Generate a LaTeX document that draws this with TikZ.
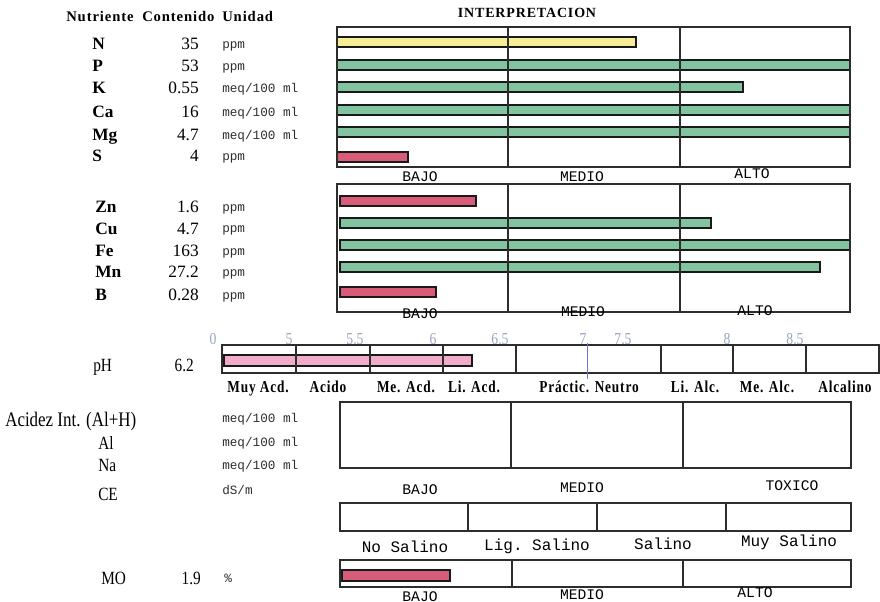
\documentclass[tikz,border=0pt]{standalone}
\usepackage{fontspec}
\setmainfont{Liberation Serif}
\setmonofont{Liberation Mono}
\newfontfamily\condfont[FakeStretch=0.82]{Liberation Serif}
\newfontfamily\phfont[FakeStretch=0.8, LetterSpace=5]{Liberation Serif}
\newfontfamily\spacedfont[LetterSpace=6]{Liberation Serif}

\definecolor{baryellow}{RGB}{245,238,150}
\definecolor{bargreen}{RGB}{130,196,160}
\definecolor{barred}{RGB}{214,92,120}
\definecolor{barpink}{RGB}{240,172,200}
\definecolor{scalegray}{RGB}{150,165,192}
\definecolor{inkgray}{RGB}{45,45,45}

\tikzset{
  nutr/.style={anchor=base west, inner sep=0pt, font=\fontsize{13}{14}\selectfont\bfseries},
  head/.style={anchor=base west, inner sep=0pt, font=\spacedfont\fontsize{11}{12}\selectfont\bfseries},
  val/.style={anchor=base east, inner sep=0pt, font=\fontsize{13}{14}\selectfont},
  cond/.style={anchor=base west, inner sep=0pt, font=\condfont\fontsize{14}{15}\selectfont},
  unit/.style={anchor=base west, inner sep=0pt, text=inkgray, font=\ttfamily\fontsize{9.5}{10}\selectfont},
  cat/.style={anchor=base, inner sep=0pt, font=\ttfamily\fontsize{11}{12}\selectfont},
  salcat/.style={anchor=base, inner sep=0pt, font=\ttfamily\fontsize{12}{13}\selectfont},
  phcat/.style={anchor=base, inner sep=0pt, font=\phfont\bfseries\fontsize{12.5}{13}\selectfont},
  phtick/.style={anchor=base, inner sep=0pt, text=scalegray, font=\condfont\fontsize{12.5}{13}\selectfont},
  frame/.style={draw=inkgray, line width=1.3pt},
  bar/.style={draw=black!90, line width=1.5pt}
}

\begin{document}
\begin{tikzpicture}[x=0.75pt, y=-0.75pt]
\useasboundingbox (0,0) rectangle (880,602);

% Header
\node[head] (hnut) at (66,22) {Nutriente};
\node[head] (hcont) at (142,22) {Contenido};
\node[head] (huni) at (222,22) {Unidad};
\node[anchor=base, inner sep=0pt, font=\spacedfont\fontsize{10.5}{11}\selectfont\bfseries] (hint) at (527,18) {INTERPRETACION};

% Macronutrients
\node[nutr] (n) at (92,50) {N};   \node[val] (vn) at (199,50) {35};   \node[unit] (un) at (222,49) {ppm};
\node[nutr] (p) at (92,72) {P};   \node[val] (vp) at (199,72) {53};   \node[unit] (up) at (222,71) {ppm};
\node[nutr] (k) at (92,94) {K};   \node[val] (vk) at (199,94) {0.55}; \node[unit] (uk) at (222,93) {meq/100 ml};
\node[nutr] (ca) at (92,118) {Ca}; \node[val] (vca) at (199,118) {16}; \node[unit] (uca) at (222,117) {meq/100 ml};
\node[nutr] (mg) at (92,141) {Mg}; \node[val] (vmg) at (199,141) {4.7}; \node[unit] (umg) at (222,140) {meq/100 ml};
\node[nutr] (s) at (92,162) {S};   \node[val] (vs) at (199,162) {4};   \node[unit] (us) at (222,161) {ppm};

% Box 1
\draw[bar, fill=baryellow] (337,37) rectangle (636,47);
\draw[bar, fill=bargreen] (337,60) rectangle (850,70);
\draw[bar, fill=bargreen] (337,82) rectangle (743,92);
\draw[bar, fill=bargreen] (337,105) rectangle (850,115);
\draw[bar, fill=bargreen] (337,127) rectangle (850,137);
\draw[bar, fill=barred] (337,152) rectangle (408,162);
\draw[frame] (337,27) rectangle (850,167);
\draw[frame] (508,27) -- (508,167);
\draw[frame] (680,27) -- (680,167);
\node[cat] (b1) at (420,181) {BAJO};
\node[cat] (m1) at (582,181) {MEDIO};
\node[cat] (a1) at (752,179) {ALTO};

% Micronutrients
\node[nutr] (zn) at (95,212) {Zn}; \node[val] (vzn) at (199,212) {1.6};  \node[unit] (uzn) at (222,211) {ppm};
\node[nutr] (cu) at (95,234) {Cu}; \node[val] (vcu) at (199,234) {4.7};  \node[unit] (ucu) at (222,233) {ppm};
\node[nutr] (fe) at (95,256) {Fe}; \node[val] (vfe) at (199,256) {163};  \node[unit] (ufe) at (222,255) {ppm};
\node[nutr] (mn) at (95,277) {Mn}; \node[val] (vmn) at (199,277) {27.2}; \node[unit] (umn) at (222,276) {ppm};
\node[nutr] (bo) at (95,300) {B};  \node[val] (vbo) at (199,300) {0.28}; \node[unit] (ubo) at (222,299) {ppm};

% Box 2
\draw[bar, fill=barred] (340,196) rectangle (476,206);
\draw[bar, fill=bargreen] (340,218) rectangle (711,228);
\draw[bar, fill=bargreen] (340,240) rectangle (850,250);
\draw[bar, fill=bargreen] (340,262) rectangle (820,272);
\draw[bar, fill=barred] (340,287) rectangle (436,297);
\draw[frame] (337,184) rectangle (850,312);
\draw[frame] (508,184) -- (508,312);
\draw[frame] (680,184) -- (680,312);
\node[cat] (b2) at (420,318) {BAJO};
\node[cat] (m2) at (583,316) {MEDIO};
\node[cat] (a2) at (755,315) {ALTO};

% pH
\node[phtick] (t0) at (213,344) {0};
\node[phtick] (t1) at (289,344) {5};
\node[phtick] (t2) at (355,344) {5.5};
\node[phtick] (t3) at (433,344) {6};
\node[phtick] (t4) at (500,344) {6.5};
\node[phtick] (t5) at (583,344) {7};
\node[phtick] (t6) at (623,344) {7.5};
\node[phtick] (t7) at (727,344) {8};
\node[phtick] (t8) at (795,344) {8.5};
\node[cond] (ph) at (93,371) {pH};
\node[cond, anchor=base east] (vph) at (194,371) {6.2};
\draw[bar, fill=barpink] (224,355) rectangle (472,366);
\draw[frame] (222,345) rectangle (879,373);
\draw[frame] (296,345) -- (296,373);
\draw[frame] (370,345) -- (370,373);
\draw[frame] (443,345) -- (443,373);
\draw[frame] (516,345) -- (516,373);
\draw[frame] (661,345) -- (661,373);
\draw[frame] (733,345) -- (733,373);
\draw[frame] (806,345) -- (806,373);
\draw[scalegray!70!blue, line width=0.6pt] (587,343) -- (587,379);
\node[phcat] (c1) at (258,392) {Muy Acd.};
\node[phcat] (c2) at (328,392) {Acido};
\node[phcat] (c3) at (406,392) {Me. Acd.};
\node[phcat] (c4) at (474,392) {Li. Acd.};
\node[phcat] (c5) at (589,392) {Práctic. Neutro};
\node[phcat] (c6) at (695,392) {Li. Alc.};
\node[phcat] (c7) at (767,392) {Me. Alc.};
\node[phcat] (c8) at (845,392) {Alcalino};

% Acidez
\node[cond, font=\condfont\fontsize{15.5}{16}\selectfont] (acid) at (5,426) {Acidez Int. (Al+H)};
\node[cond] (al) at (98,449) {Al};
\node[cond] (na) at (98,471) {Na};
\node[unit] (uacid) at (222,422) {meq/100 ml};
\node[unit] (ual) at (222,446) {meq/100 ml};
\node[unit] (una) at (222,469) {meq/100 ml};
\draw[frame] (340,402) rectangle (851,468);
\draw[frame] (511,402) -- (511,468);
\draw[frame] (683,402) -- (683,468);
\node[cat] (b3) at (420,494) {BAJO};
\node[cat] (m3) at (582,492) {MEDIO};
\node[cat] (x3) at (792,490) {TOXICO};

% CE
\node[cond] (ce) at (98,500) {CE};
\node[unit] (uce) at (222,494) {dS/m};
\draw[frame] (340,503) rectangle (851,531);
\draw[frame] (468,503) -- (468,531);
\draw[frame] (597,503) -- (597,531);
\draw[frame] (726,503) -- (726,531);
\node[salcat] (s1) at (405,552) {No Salino};
\node[salcat] (s2) at (537,550) {Lig. Salino};
\node[salcat] (s3) at (663,549) {Salino};
\node[salcat] (s4) at (789,546) {Muy Salino};

% MO
\node[cond] (mo) at (101,584) {MO};
\node[cond, anchor=base east] (vmo) at (201,584) {1.9};
\node[unit] (umo) at (224,582) {\%};
\draw[bar, fill=barred] (342,570) rectangle (450,581);
\draw[frame] (340,560) rectangle (851,587);
\draw[frame] (512,560) -- (512,587);
\draw[frame] (683,560) -- (683,587);
\node[cat] (b4) at (420,601) {BAJO};
\node[cat] (m4) at (582,599) {MEDIO};
\node[cat] (a4) at (755,597) {ALTO};
\end{tikzpicture}
\end{document}
